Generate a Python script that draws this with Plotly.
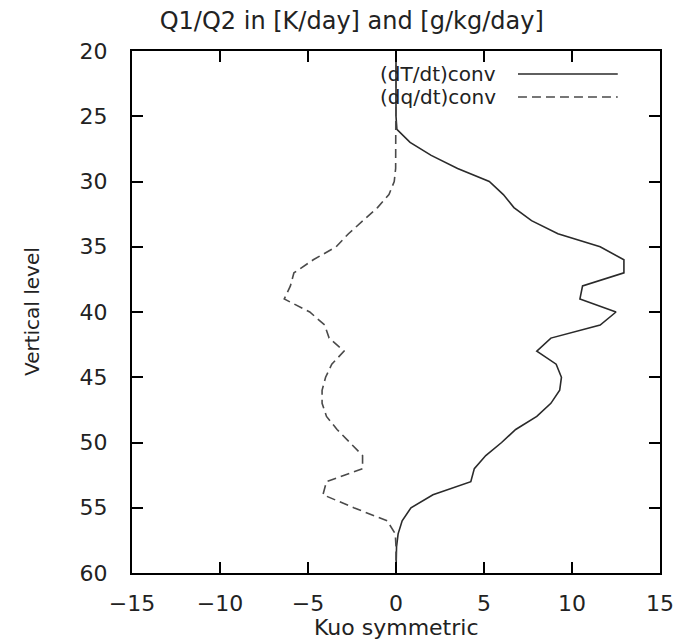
import plotly.graph_objects as go

levels = list(range(20, 61))

dT_conv = [0, 0, 0, 0, 0, 0, 0.05, 0.8, 2.0, 3.5, 5.3, 6.1, 6.7, 7.7, 9.2, 11.6,
           12.95, 12.95, 10.6, 10.45, 12.5, 11.6, 8.8, 8.0, 9.1, 9.4, 9.3, 8.8,
           8.0, 6.8, 6.0, 5.1, 4.45, 4.25, 2.1, 0.85, 0.35, 0.12, 0.03, 0, 0]

dq_conv = [0, 0, 0, 0, 0, 0, 0, 0, 0, -0.02, -0.1, -0.4, -1.05, -1.9, -2.7, -3.4,
           -4.7, -5.8, -6.0, -6.35, -4.9, -4.05, -3.8, -2.95, -3.65, -4.0, -4.2,
           -4.2, -3.95, -3.35, -2.6, -1.9, -1.9, -3.95, -4.15, -2.4, -0.5, -0.04,
           0, 0, 0]

series_names = ["(dT/dt)conv", "(dq/dt)conv"]
x_ticks = [-15, -10, -5, 0, 5, 10, 15]
y_ticks = [20, 25, 30, 35, 40, 45, 50, 55, 60]

FONT = "DejaVu Sans"
SOLID_C = "#2a2a2a"
DASH_C = "#4a4a4a"
DASH = "9px,5px"

fig = go.Figure()
fig.add_trace(go.Scatter(x=dT_conv, y=levels, mode="lines", name=series_names[0],
                         line=dict(color=SOLID_C, width=1.6)))
fig.add_trace(go.Scatter(x=dq_conv, y=levels, mode="lines", name=series_names[1],
                         line=dict(color=DASH_C, width=1.6, dash=DASH)))

fig.update_layout(
    width=687, height=641,
    margin=dict(l=132, r=27, t=51, b=68),
    paper_bgcolor="white", plot_bgcolor="white",
    showlegend=False,
    font=dict(family=FONT, color="#222", size=22),
    title=dict(text="Q1/Q2 in [K/day] and [g/kg/day]", xref="container", x=0.512,
               xanchor="center", yref="container", y=1 - 21 / 641, yanchor="middle",
               font=dict(family=FONT, size=24, color="#222")),
)

axis_common = dict(showgrid=False, zeroline=False, showline=True, linecolor="black",
                   linewidth=2, mirror="allticks", ticks="inside", ticklen=11,
                   tickwidth=2, tickcolor="black",
                   tickfont=dict(family=FONT, size=22, color="#222"))

fig.update_xaxes(range=[-15, 15], tickvals=x_ticks,
                 ticktext=[("\u2212" + str(-v)) if v < 0 else str(v) for v in x_ticks],
                 ticklabelstandoff=10, **axis_common)
fig.update_yaxes(range=[60, 20], tickvals=y_ticks, ticklabelstandoff=18, **axis_common)

# axis titles
fig.add_annotation(text="Kuo symmetric", xref="paper", yref="paper", x=0.5, y=0,
                   xanchor="center", yanchor="middle", yshift=-54, showarrow=False,
                   font=dict(family=FONT, size=22, color="#222"))
fig.add_annotation(text="Vertical level", xref="paper", yref="paper", x=0, y=0.5,
                   xanchor="center", yanchor="middle", xshift=-100, textangle=-90,
                   showarrow=False, font=dict(family=FONT, size=20, color="#222"))

# gnuplot-style key: text right-aligned, sample line on right
key_rows = [(series_names[0], (573 - 74) / 522, "solid", SOLID_C),
            (series_names[1], (573 - 97) / 522, DASH, DASH_C)]
for name, yy, dash, col in key_rows:
    fig.add_annotation(text=name, xref="paper", yref="paper", x=0.691, y=yy,
                       xanchor="right", yanchor="middle", showarrow=False, borderpad=0,
                       font=dict(family=FONT, size=20, color="#222"))
    fig.add_shape(type="line", xref="paper", yref="paper", x0=0.731, x1=0.920,
                  y0=yy, y1=yy, line=dict(color=col, width=1.6, dash=dash))

fig.write_html("out.html")
